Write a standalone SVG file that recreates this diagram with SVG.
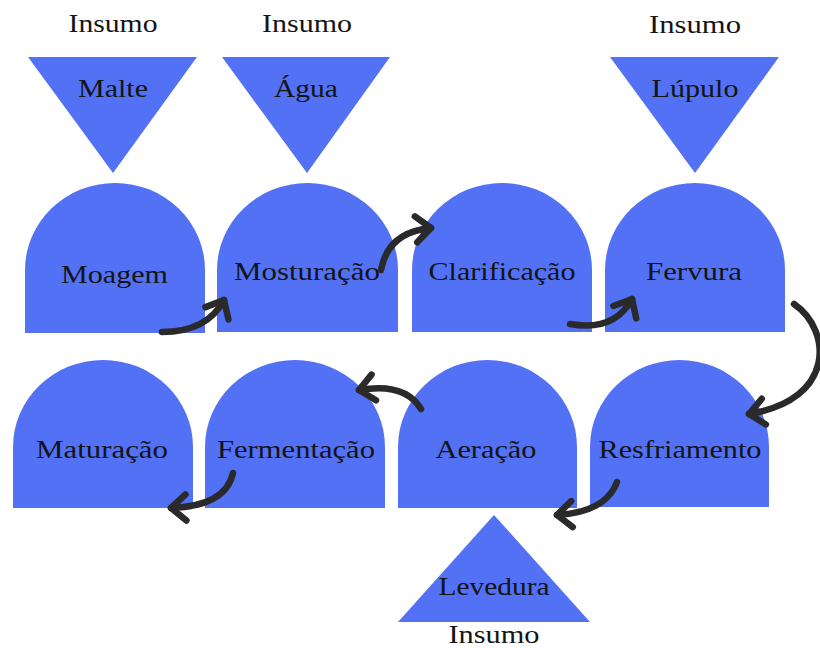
<svg xmlns="http://www.w3.org/2000/svg" width="820" height="648" viewBox="0 0 820 648">
<style>
.shape{fill:#5271F4;}
.lbl{font-family:"Liberation Serif","Times New Roman",serif;font-size:26px;fill:#141414;text-anchor:middle;}
.arr{fill:none;stroke:#2a2a2a;stroke-width:6.5;stroke-linecap:round;marker-end:url(#ah);}
</style>
<defs>
<marker id="ah" viewBox="-20 -18 26 36" refX="0" refY="0" markerWidth="26" markerHeight="36" markerUnits="userSpaceOnUse" orient="auto">
<path d="M -15 -13 L 0 0 L -15 13" fill="none" stroke="#2a2a2a" stroke-width="6.5" stroke-linecap="round" stroke-linejoin="round"/>
</marker>
</defs>
<rect width="820" height="648" fill="#ffffff"/>

<g id="insumo-malte">
<text class="lbl" x="113" y="32" textLength="89" lengthAdjust="spacingAndGlyphs">Insumo</text>
<polygon class="shape" points="28,57 197,57 113,173"/>
<text class="lbl" x="113" y="97" textLength="70" lengthAdjust="spacingAndGlyphs">Malte</text>
</g>
<g id="insumo-agua">
<text class="lbl" x="307" y="32" textLength="90" lengthAdjust="spacingAndGlyphs">Insumo</text>
<polygon class="shape" points="222,57 390,57 307,173"/>
<text class="lbl" x="306" y="97" textLength="64" lengthAdjust="spacingAndGlyphs">Água</text>
</g>
<g id="insumo-lupulo">
<text class="lbl" x="695" y="33" textLength="92" lengthAdjust="spacingAndGlyphs">Insumo</text>
<polygon class="shape" points="610,57 779,57 695,173"/>
<text class="lbl" x="695" y="97" textLength="87" lengthAdjust="spacingAndGlyphs">Lúpulo</text>
</g>
<g id="insumo-levedura">
<polygon class="shape" points="494,515 398,622 590,622"/>
<text class="lbl" x="494" y="595" textLength="111" lengthAdjust="spacingAndGlyphs">Levedura</text>
<text class="lbl" x="494" y="643" textLength="91" lengthAdjust="spacingAndGlyphs">Insumo</text>
</g>

<g id="moagem">
<path class="shape" d="M25 333 L25 270 A90 87 0 0 1 205 270 L205 333 Z"/>
<text class="lbl" x="114.5" y="283" textLength="107" lengthAdjust="spacingAndGlyphs">Moagem</text>
</g>
<g id="mosturacao">
<path class="shape" d="M217 332 L217 270 A90.5 87 0 0 1 398 270 L398 332 Z"/>
<text class="lbl" x="307" y="280" textLength="146" lengthAdjust="spacingAndGlyphs">Mosturação</text>
</g>
<g id="clarificacao">
<path class="shape" d="M412 332 L412 270 A90 87 0 0 1 592 270 L592 332 Z"/>
<text class="lbl" x="502" y="280" textLength="147" lengthAdjust="spacingAndGlyphs">Clarificação</text>
</g>
<g id="fervura">
<path class="shape" d="M605 332 L605 270 A90 87 0 0 1 785 270 L785 332 Z"/>
<text class="lbl" x="694" y="280" textLength="96" lengthAdjust="spacingAndGlyphs">Fervura</text>
</g>

<g id="maturacao">
<path class="shape" d="M13 508 L13 447 A90 87 0 0 1 193 447 L193 508 Z"/>
<text class="lbl" x="102" y="458" textLength="132" lengthAdjust="spacingAndGlyphs">Maturação</text>
</g>
<g id="fermentacao">
<path class="shape" d="M205 508 L205 447 A90 87 0 0 1 385 447 L385 508 Z"/>
<text class="lbl" x="296" y="458" textLength="158" lengthAdjust="spacingAndGlyphs">Fermentação</text>
</g>
<g id="aeracao">
<path class="shape" d="M398 508 L398 447 A89.5 87 0 0 1 577 447 L577 508 Z"/>
<text class="lbl" x="486" y="458" textLength="101" lengthAdjust="spacingAndGlyphs">Aeração</text>
</g>
<g id="resfriamento">
<path class="shape" d="M590 507 L590 447 A89.5 87 0 0 1 769 447 L769 507 Z"/>
<text class="lbl" x="680" y="458" textLength="163" lengthAdjust="spacingAndGlyphs">Resfriamento</text>
</g>

<g id="connectors">
<path class="arr" d="M162 332 Q207 332 224 300"/>
<path class="arr" d="M381 270 Q388 232 431 228"/>
<path class="arr" d="M570 324 Q614 332 632 299"/>
<path class="arr" d="M794 304 C832 330 836 400 749 414"/>
<path class="arr" d="M617 482 Q606 512 557 515"/>
<path class="arr" d="M421 409 Q405 382 359 390"/>
<path class="arr" d="M233 473 Q226 506 171 508"/>
</g>
</svg>
